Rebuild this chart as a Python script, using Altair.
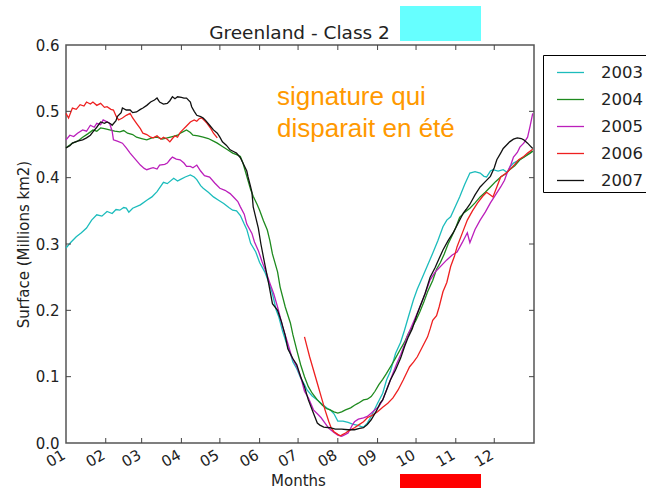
import json

import altair as alt
import pandas as pd

# ---------------------------------------------------------------------------
# Data: daily surface of class-2 signature, Greenland (millions km2),
# sampled as (day of year, value) pairs per year.
# ---------------------------------------------------------------------------
YEARS = ["2003", "2004", "2005", "2006", "2007"]
COLORS = ["#1cbcbc", "#1e8a1e", "#bb1fbb", "#ee2020", "#111111"]

MONTH_STARTS = [1, 32, 60, 91, 121, 152, 182, 213, 244, 274, 305, 335]
MONTH_LABELS = ["01", "02", "03", "04", "05", "06", "07", "08", "09", "10", "11", "12"]
Y_TICKS = [0.0, 0.1, 0.2, 0.3, 0.4, 0.5, 0.6]

S2003 = [
    (1, 0.294), (5, 0.303), (9, 0.311), (13, 0.317), (17, 0.324), (21, 0.336), (25, 0.344),
    (29, 0.342), (33, 0.349), (37, 0.346), (40, 0.352), (43, 0.351), (46, 0.355), (48, 0.354),
    (50, 0.348), (53, 0.354), (59, 0.359), (64, 0.366), (68, 0.371), (72, 0.379), (77, 0.393),
    (80, 0.391), (85, 0.399), (88, 0.395), (90, 0.397), (94, 0.401), (98, 0.404), (101, 0.401),
    (103, 0.397), (106, 0.388), (108, 0.384), (112, 0.378), (116, 0.371), (120, 0.366),
    (124, 0.361), (128, 0.355), (131, 0.351), (134, 0.350), (137, 0.343), (140, 0.330),
    (142, 0.322), (145, 0.301), (149, 0.288), (152, 0.272), (156, 0.258), (159, 0.243),
    (162, 0.225), (165, 0.200), (167, 0.190), (170, 0.168), (173, 0.150), (176, 0.135),
    (178, 0.122), (181, 0.112), (184, 0.098), (187, 0.088), (189, 0.080), (193, 0.071),
    (197, 0.065), (201, 0.058), (205, 0.052), (207, 0.050), (210, 0.044), (213, 0.033),
    (217, 0.033), (221, 0.031), (225, 0.028), (228, 0.027), (231, 0.025), (233, 0.024),
    (236, 0.030), (239, 0.040), (242, 0.052), (244, 0.060), (248, 0.075), (251, 0.095),
    (254, 0.108), (258, 0.135), (262, 0.152), (265, 0.170), (268, 0.190), (272, 0.216),
    (275, 0.232), (279, 0.250), (283, 0.268), (287, 0.286), (291, 0.305), (295, 0.326),
    (298, 0.336), (301, 0.341), (305, 0.358), (308, 0.371), (312, 0.390), (316, 0.407),
    (320, 0.409), (324, 0.407), (327, 0.402), (329, 0.401), (332, 0.410), (334, 0.412),
    (338, 0.410), (342, 0.412), (345, 0.408), (348, 0.418), (350, 0.422), (354, 0.426),
    (358, 0.431), (361, 0.435), (365, 0.440),
]

S2004 = [
    (1, 0.445), (6, 0.452), (10, 0.455), (14, 0.461), (18, 0.466), (22, 0.472), (25, 0.470),
    (28, 0.475), (31, 0.474), (35, 0.472), (39, 0.470), (43, 0.469), (46, 0.471), (49, 0.467),
    (53, 0.465), (56, 0.461), (60, 0.459), (64, 0.457), (68, 0.460), (72, 0.461), (76, 0.458),
    (80, 0.460), (84, 0.462), (88, 0.464), (91, 0.468), (95, 0.472), (98, 0.468), (100, 0.464),
    (104, 0.463), (108, 0.461), (112, 0.459), (116, 0.455), (119, 0.452), (123, 0.447),
    (127, 0.442), (131, 0.437), (135, 0.434), (137, 0.432), (139, 0.422), (142, 0.402),
    (145, 0.382), (147, 0.372), (150, 0.360), (152, 0.351), (155, 0.335), (158, 0.321),
    (160, 0.305), (162, 0.285), (166, 0.258), (168, 0.235), (172, 0.205), (176, 0.181),
    (178, 0.163), (181, 0.140), (184, 0.118), (187, 0.100), (190, 0.085), (193, 0.075),
    (197, 0.065), (201, 0.057), (204, 0.052), (207, 0.050), (210, 0.047), (213, 0.045),
    (216, 0.047), (219, 0.050), (223, 0.053), (226, 0.057), (229, 0.060), (233, 0.065),
    (236, 0.066), (239, 0.070), (242, 0.078), (245, 0.088), (248, 0.096), (251, 0.105),
    (255, 0.118), (258, 0.128), (262, 0.142), (265, 0.152), (268, 0.165), (271, 0.175),
    (274, 0.185), (277, 0.198), (280, 0.212), (283, 0.228), (287, 0.245), (290, 0.262),
    (293, 0.272), (296, 0.285), (299, 0.300), (302, 0.312), (305, 0.325), (308, 0.340),
    (312, 0.348), (316, 0.354), (320, 0.362), (324, 0.371), (328, 0.378), (332, 0.386),
    (336, 0.394), (340, 0.401), (344, 0.406), (347, 0.412), (351, 0.418), (355, 0.427),
    (359, 0.432), (363, 0.437), (365, 0.440),
]

S2005 = [
    (1, 0.457), (4, 0.464), (7, 0.462), (10, 0.467), (14, 0.472), (17, 0.470), (20, 0.479),
    (23, 0.476), (25, 0.482), (28, 0.480), (30, 0.487), (33, 0.484), (35, 0.482), (37, 0.470),
    (38, 0.457), (41, 0.455), (45, 0.452), (48, 0.445), (51, 0.437), (55, 0.428), (59, 0.419),
    (62, 0.414), (64, 0.412), (67, 0.414), (69, 0.415), (72, 0.413), (74, 0.419), (78, 0.420),
    (80, 0.422), (82, 0.427), (84, 0.431), (87, 0.428), (90, 0.427), (93, 0.422), (95, 0.417),
    (98, 0.417), (100, 0.415), (103, 0.419), (106, 0.410), (109, 0.403), (113, 0.401),
    (117, 0.392), (121, 0.384), (125, 0.381), (129, 0.376), (132, 0.370), (135, 0.364),
    (137, 0.356), (140, 0.345), (142, 0.330), (146, 0.316), (148, 0.303), (151, 0.290),
    (154, 0.273), (157, 0.258), (160, 0.241), (163, 0.225), (166, 0.205), (170, 0.175),
    (174, 0.150), (177, 0.130), (181, 0.115), (184, 0.100), (187, 0.078), (190, 0.068),
    (194, 0.050), (197, 0.044), (200, 0.038), (203, 0.030), (206, 0.022), (210, 0.016),
    (213, 0.012), (216, 0.010), (219, 0.013), (221, 0.015), (224, 0.026), (226, 0.032),
    (229, 0.036), (233, 0.038), (236, 0.040), (239, 0.045), (242, 0.050), (245, 0.055),
    (248, 0.065), (251, 0.080), (254, 0.095), (256, 0.105), (259, 0.120), (262, 0.133),
    (265, 0.148), (267, 0.160), (271, 0.178), (275, 0.196), (279, 0.215), (283, 0.235),
    (285, 0.246), (289, 0.258), (291, 0.262), (295, 0.270), (298, 0.276), (302, 0.283),
    (306, 0.288), (310, 0.302), (314, 0.317), (316, 0.302), (320, 0.322), (324, 0.336),
    (328, 0.348), (332, 0.362), (336, 0.374), (340, 0.386), (343, 0.396), (345, 0.407),
    (348, 0.420), (350, 0.431), (353, 0.438), (355, 0.446), (358, 0.452), (361, 0.461),
    (363, 0.478), (365, 0.497),
]

# 2006 has a data gap between late April and early July
S2006_SPRING = [
    (1, 0.497), (3, 0.490), (6, 0.505), (9, 0.503), (12, 0.510), (15, 0.508), (17, 0.514),
    (20, 0.511), (22, 0.514), (25, 0.509), (28, 0.512), (31, 0.506), (33, 0.507), (36, 0.503),
    (38, 0.502), (40, 0.493), (42, 0.487), (45, 0.490), (48, 0.494), (51, 0.497), (53, 0.490),
    (56, 0.482), (59, 0.474), (61, 0.467), (64, 0.465), (67, 0.461), (69, 0.460), (72, 0.463),
    (75, 0.458), (77, 0.461), (80, 0.458), (82, 0.454), (84, 0.459), (86, 0.463), (88, 0.461),
    (90, 0.468), (92, 0.472), (95, 0.478), (98, 0.484), (101, 0.487), (103, 0.485),
    (105, 0.489), (107, 0.490), (109, 0.486), (111, 0.482), (114, 0.474), (116, 0.467),
    (119, 0.460),
]
S2006_SUMMER = [
    (187, 0.160), (189, 0.145), (191, 0.130), (194, 0.110), (197, 0.090), (200, 0.070),
    (203, 0.050), (206, 0.032), (208, 0.022), (210, 0.017), (213, 0.013), (215, 0.011),
    (217, 0.013), (219, 0.015), (222, 0.019), (226, 0.023), (229, 0.027), (233, 0.032),
    (236, 0.038), (240, 0.042), (244, 0.047), (248, 0.054), (252, 0.060), (256, 0.068),
    (260, 0.080), (264, 0.095), (267, 0.107), (269, 0.115), (272, 0.122), (275, 0.130),
    (279, 0.145), (283, 0.160), (285, 0.172), (287, 0.185), (290, 0.192), (292, 0.205),
    (295, 0.228), (298, 0.242), (301, 0.266), (304, 0.282), (306, 0.296), (310, 0.316),
    (314, 0.336), (318, 0.350), (322, 0.362), (326, 0.372), (329, 0.378), (332, 0.374),
    (334, 0.371), (337, 0.386), (340, 0.401), (343, 0.405), (345, 0.408), (348, 0.414),
    (351, 0.420), (354, 0.427), (358, 0.432), (361, 0.437), (365, 0.443),
]

S2007 = [
    (1, 0.445), (4, 0.448), (6, 0.452), (10, 0.455), (14, 0.457), (17, 0.460), (20, 0.464),
    (22, 0.469), (25, 0.476), (28, 0.484), (31, 0.482), (33, 0.484), (36, 0.481), (37, 0.479),
    (40, 0.486), (41, 0.492), (44, 0.498), (45, 0.505), (48, 0.502), (51, 0.502), (53, 0.498),
    (56, 0.499), (59, 0.503), (61, 0.505), (64, 0.509), (67, 0.514), (70, 0.517), (72, 0.520),
    (74, 0.514), (77, 0.511), (80, 0.512), (82, 0.516), (84, 0.522), (86, 0.519), (88, 0.522),
    (91, 0.521), (93, 0.520), (95, 0.520), (98, 0.514), (99, 0.507), (101, 0.500),
    (103, 0.494), (106, 0.492), (108, 0.490), (110, 0.486), (113, 0.479), (116, 0.472),
    (119, 0.467), (121, 0.461), (123, 0.454), (126, 0.449), (129, 0.442), (132, 0.439),
    (134, 0.437), (137, 0.430), (139, 0.422), (142, 0.410), (143, 0.401), (145, 0.386),
    (146, 0.378), (147, 0.356), (151, 0.324), (153, 0.300), (155, 0.280), (159, 0.241),
    (162, 0.210), (166, 0.200), (169, 0.183), (172, 0.162), (174, 0.142), (178, 0.127),
    (181, 0.118), (184, 0.100), (187, 0.085), (190, 0.065), (194, 0.045), (197, 0.030),
    (199, 0.027), (202, 0.024), (207, 0.023), (211, 0.021), (216, 0.021), (221, 0.020),
    (226, 0.020), (230, 0.022), (233, 0.023), (236, 0.028), (239, 0.035), (243, 0.048),
    (246, 0.060), (248, 0.065), (251, 0.080), (254, 0.095), (258, 0.110), (262, 0.128),
    (265, 0.145), (268, 0.160), (271, 0.172), (275, 0.195), (277, 0.205), (281, 0.225),
    (285, 0.250), (289, 0.265), (292, 0.278), (295, 0.291), (299, 0.305), (303, 0.317),
    (307, 0.332), (311, 0.347), (313, 0.352), (316, 0.360), (320, 0.374), (324, 0.386),
    (328, 0.394), (332, 0.402), (335, 0.415), (337, 0.427), (340, 0.437), (342, 0.444),
    (345, 0.450), (347, 0.454), (350, 0.458), (353, 0.460), (356, 0.459), (358, 0.457),
    (361, 0.452), (363, 0.448), (365, 0.444),
]

SERIES = {
    "2003": [S2003],
    "2004": [S2004],
    "2005": [S2005],
    "2006": [S2006_SPRING, S2006_SUMMER],
    "2007": [S2007],
}

rows = []
for year, segments in SERIES.items():
    for k, seg in enumerate(segments):
        for day, val in seg:
            rows.append({"year": year, "segment": f"{year}-{k}", "day": day, "value": val})
df = pd.DataFrame(rows)

# ---------------------------------------------------------------------------
# Styling
# ---------------------------------------------------------------------------
FONT = "DejaVu Sans"
TXT = "#222222"
FRAME = "#555555"
W, H = 468, 398

label_expr = f"{json.dumps(MONTH_LABELS)}[indexof({json.dumps(MONTH_STARTS)}, datum.value)]"

x_scale = alt.Scale(domain=[1, 366], nice=False, zero=False)
y_scale = alt.Scale(domain=[0, 0.6], nice=False)

X_AXIS = alt.Axis(
    values=MONTH_STARTS,
    labelExpr=label_expr,
    labelAngle=330,
    labelAlign="right",
    labelBaseline="alphabetic",
    labelPadding=14.5,
    labelFlush=False,
    labelOverlap=False,
    labelFont=FONT,
    labelFontSize=15,
    labelColor=TXT,
    ticks=False,
    domain=False,
    grid=False,
    title="Months",
    titleFont=FONT,
    titleFontSize=15,
    titleFontWeight="normal",
    titleColor=TXT,
    titleX=232,
    titleY=42,
    titleAlign="center",
    titleBaseline="alphabetic",
)

Y_AXIS = alt.Axis(
    values=Y_TICKS,
    format=".1f",
    labelPadding=7,
    labelFlush=False,
    labelOverlap=False,
    labelFont=FONT,
    labelFontSize=15,
    labelColor=TXT,
    ticks=False,
    domain=False,
    grid=False,
    title="Surface (Millions km2)",
    titleFont=FONT,
    titleFontSize=15,
    titleFontWeight="normal",
    titleColor=TXT,
    titleAngle=270,
    titleX=-38,
    titleY=H / 2,
    titleAlign="center",
    titleBaseline="alphabetic",
)

lines = alt.Chart(df).mark_line(strokeWidth=1.3).encode(
    x=alt.X("day:Q", scale=x_scale, axis=X_AXIS),
    y=alt.Y("value:Q", scale=y_scale, axis=Y_AXIS),
    color=alt.Color(
        "year:N",
        scale=alt.Scale(domain=YEARS, range=COLORS),
        legend=alt.Legend(
            title=None,
            orient="none",
            legendX=477,
            legendY=10,
            symbolType="stroke",
            symbolSize=729,
            symbolStrokeWidth=1.3,
            symbolOffset=10,
            labelOffset=16,
            labelFont=FONT,
            labelFontSize=16.5,
            labelColor=TXT,
            padding=3,
            rowPadding=4,
            strokeColor="#000000",
            fillColor="#ffffff",
            cornerRadius=0,
        ),
    ),
    detail="segment:N",
)

# Inward tick marks on all four sides, matplotlib style
xticks_df = pd.DataFrame({"day": MONTH_STARTS[1:]})
yticks_df = pd.DataFrame({"value": Y_TICKS[1:-1]})
tick_style = dict(color="#444444", strokeWidth=1)

ticks_bottom = alt.Chart(xticks_df).mark_rule(**tick_style).encode(
    x=alt.X("day:Q", scale=x_scale, axis=X_AXIS), y=alt.value(H), y2=alt.value(H - 5)
)
ticks_top = alt.Chart(xticks_df).mark_rule(**tick_style).encode(
    x=alt.X("day:Q", scale=x_scale, axis=X_AXIS), y=alt.value(0), y2=alt.value(5)
)
ticks_left = alt.Chart(yticks_df).mark_rule(**tick_style).encode(
    y=alt.Y("value:Q", scale=y_scale, axis=Y_AXIS), x=alt.value(0), x2=alt.value(5)
)
ticks_right = alt.Chart(yticks_df).mark_rule(**tick_style).encode(
    y=alt.Y("value:Q", scale=y_scale, axis=Y_AXIS), x=alt.value(W), x2=alt.value(W - 5)
)

# Title and annotation
title_df = pd.DataFrame({"text": ["Greenland - Class 2"]})
title = alt.Chart(title_df).mark_text(
    font=FONT, fontSize=18.5, color=TXT, align="center", baseline="alphabetic"
).encode(text="text:N", x=alt.value(233.5), y=alt.value(-6))

note_df = pd.DataFrame({"text": ["signature qui\ndisparait en été"]})
note = alt.Chart(note_df).mark_text(
    font="Liberation Sans",
    fontSize=26,
    color="#FF9900",
    align="left",
    baseline="alphabetic",
    lineBreak="\n",
    lineHeight=32,
).encode(text="text:N", x=alt.value(211), y=alt.value(60))

# Highlight bars: cyan next to the title, red under the autumn months
bar_df = pd.DataFrame({"k": [0]})
cyan_bar = alt.Chart(bar_df).mark_rect(color="#66FFFF").encode(
    x=alt.value(334), x2=alt.value(415), y=alt.value(-39), y2=alt.value(-4)
)
red_bar = alt.Chart(bar_df).mark_rect(color="#FF0000").encode(
    x=alt.value(334), x2=alt.value(415), y=alt.value(429), y2=alt.value(443)
)

chart = (
    alt.layer(
        lines, ticks_bottom, ticks_top, ticks_left, ticks_right, title, note, cyan_bar, red_bar
    )
    .properties(
        width=W,
        height=H,
        autosize=alt.AutoSizeParams(type="none"),
        padding={"left": 66, "top": 45, "right": 112, "bottom": 46},
        background="white",
    )
    .configure_view(stroke=FRAME, strokeWidth=1.5)
)

chart.save("out.html", embed_options={"renderer": "svg", "actions": False})
